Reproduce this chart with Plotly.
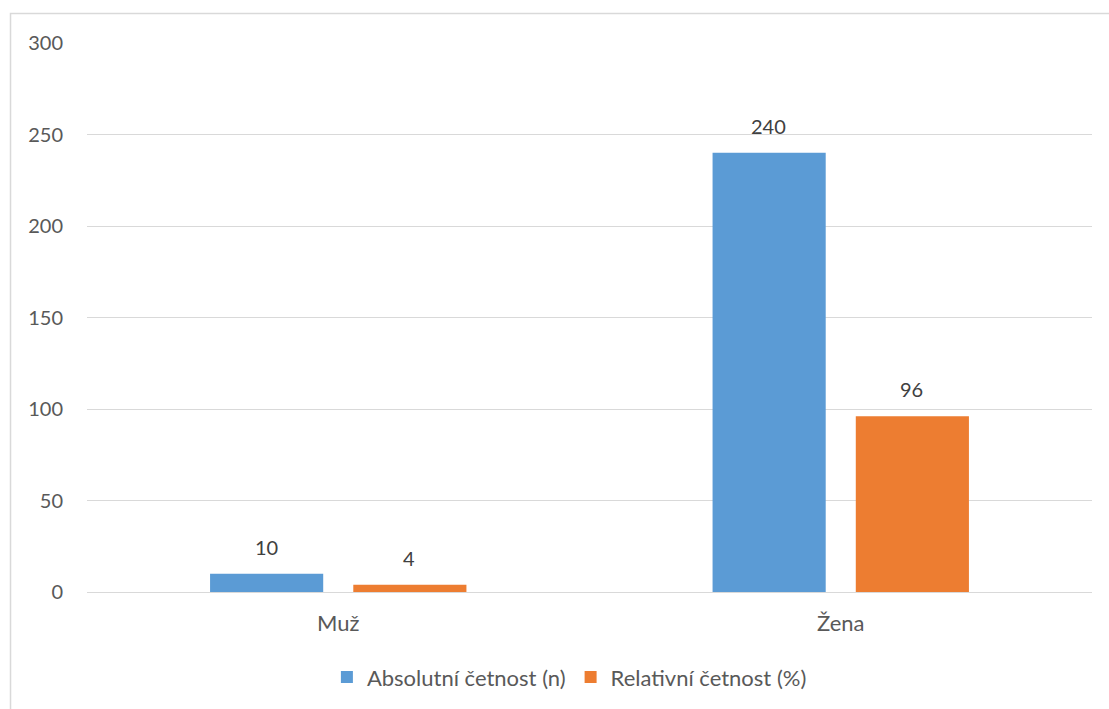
import plotly.graph_objects as go

categories = ["Muž", "Žena"]
absolutni = [10, 240]
relativni = [4, 96]
y_ticks = [0, 50, 100, 150, 200, 250, 300]

FONT = "Lato, 'Open Sans', sans-serif"
TEXT = "#595959"
LABEL = "#404040"
NUM_SIZE = 20
TXT_SIZE = 22

fig = go.Figure()
fig.add_trace(go.Bar(
    name="Absolutní četnost (n)", x=categories, y=absolutni,
    marker=dict(color="#5B9BD5", line=dict(width=0)),
))
fig.add_trace(go.Bar(
    name="Relativní četnost (%)", x=categories, y=relativni,
    marker=dict(color="#ED7D31", line=dict(width=0)),
))

# value labels sitting above each bar of the group
annotations = []
for values, shift in ((absolutni, -72), (relativni, 71)):
    for cat, val in zip(categories, values):
        annotations.append(dict(
            x=cat, y=val, xref="x", yref="y", text=str(val), showarrow=False,
            xshift=shift, yshift=27, yanchor="middle",
            font=dict(family=FONT, size=NUM_SIZE, color=LABEL),
        ))

fig.update_layout(
    width=1109, height=709,
    margin=dict(l=87, r=17, t=43, b=116),
    paper_bgcolor="white", plot_bgcolor="white",
    barmode="group", bargap=0.43, bargroupgap=0.21,
    font=dict(family=FONT, size=TXT_SIZE, color=TEXT),
    showlegend=True,
    legend=dict(orientation="h", x=0.48, xanchor="center", y=-0.153, yanchor="middle",
                font=dict(family=FONT, size=TXT_SIZE, color=TEXT), itemwidth=30,
                traceorder="normal"),
    xaxis=dict(showgrid=False, showline=True, linecolor="#d9d9d9", linewidth=1,
               ticks="", ticklabelstandoff=12,
               tickfont=dict(family=FONT, size=TXT_SIZE, color=TEXT)),
    yaxis=dict(range=[0, 300], tickvals=y_ticks, showgrid=True, gridcolor="#d9d9d9",
               gridwidth=1, zeroline=False, showline=False, ticks="",
               ticklabelstandoff=23, tickfont=dict(family=FONT, size=NUM_SIZE, color=TEXT)),
    annotations=annotations,
    shapes=[dict(type="rect", xref="paper", yref="paper",
                 x0=-0.0761, x1=1.1, y0=-0.3, y1=1.0536,
                 line=dict(color="#d9d9d9", width=1.5), fillcolor="rgba(0,0,0,0)",
                 layer="below")],
)

fig.write_html("out.html")
